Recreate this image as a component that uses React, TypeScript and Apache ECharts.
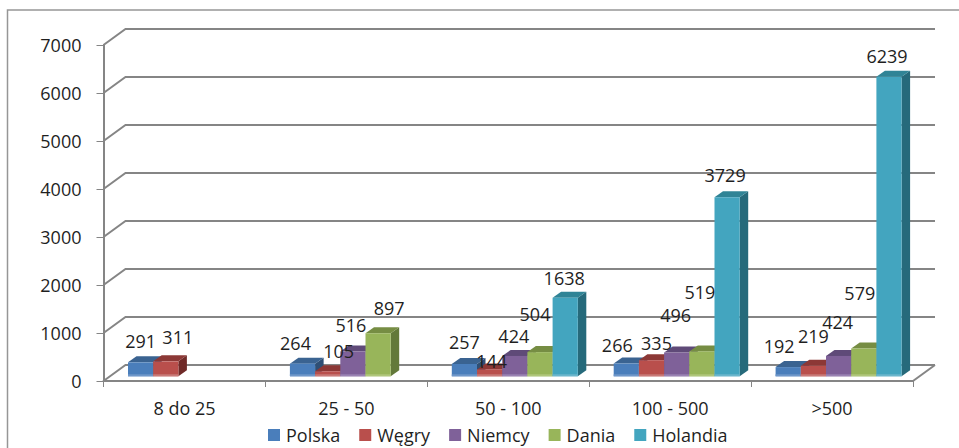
import React, { useEffect, useRef } from "react";
import * as echarts from "echarts";

const categories = ["8 do 25", "25 - 50", "50 - 100", "100 - 500", ">500"];
const yTicks = [0, 1000, 2000, 3000, 4000, 5000, 6000, 7000];
const polska = [291, 264, 257, 266, 192];
const wegry = [311, 105, 144, 335, 219];
const niemcy = [null, 516, 424, 496, 424];
const dania = [null, 897, 504, 519, 579];
const holandia = [null, null, 1638, 3729, 6239];

const seriesNames = ["Polska", "Węgry", "Niemcy", "Dania", "Holandia"];
const seriesValues = [polska, wegry, niemcy, dania, holandia];
const frontColors = ["#4a7ebb", "#b94f4c", "#7f6199", "#98b55a", "#43a5bf"];
const topColors = ["#3a6391", "#8c3836", "#5f4a78", "#768d43", "#308496"];
const sideColors = ["#2e4f75", "#6f2a28", "#4c3b60", "#63793a", "#266a7b"];
const stripColors = ["#6f97c9", "#c87a78", "#9a83b3", "#b0c67c", "#6cb6cc"];

// label nudges from the top centre of each bar: [dx, dy], by series then category
const labelNudges = [
  [[0, -21], [-7, -21], [0, -22], [-9, -19], [-9, -21]],
  [[12, -24], [11, -20], [2, -8], [5, -17], [0, -30]],
  [null, [-2, -27], [-1, -20], [-1, -37], [-1, -34]],
  [null, [11, -25], [-5, -38], [-2, -59], [-4, -56]],
  [null, null, [-1, -20], [-2, -22], [-2, -21]],
];

const FONT = "'Open Sans', sans-serif";
const TEXT = "#1f1f1f";
const LINE = "#858585";
const DEPTH_X = 22;
const DEPTH_Y = 16;
const BAR_W = 25.2;
const BAR_DX = 8.5;
const BAR_DY = 6;
const BAR_LIFT = 4.7;
const GROUP_INSET = 24.5;

export default function App() {
  const ref = useRef<HTMLDivElement>(null);
  useEffect(() => {
    document.body.style.margin = "0";
    const chart = echarts.init(ref.current!, null, { renderer: "svg" });

    const frameSeries = {
      type: "custom",
      name: "frame",
      silent: true,
      z: 1,
      data: yTicks.map((t) => [0, t]),
      renderItem: (params: any, api: any) => {
        const y = api.coord([0, api.value(1)])[1];
        const cs = params.coordSys;
        const left = cs.x;
        const right = cs.x + cs.width;
        const children: any[] = [
          {
            type: "polyline",
            shape: { points: [[left, y], [left + DEPTH_X, y - DEPTH_Y], [right + DEPTH_X, y - DEPTH_Y]] },
            style: { stroke: LINE, lineWidth: 2, fill: "none" },
          },
        ];
        if (api.value(1) === 0) {
          children.push({
            type: "line",
            shape: { x1: right, y1: y, x2: right + DEPTH_X, y2: y - DEPTH_Y },
            style: { stroke: LINE, lineWidth: 2 },
          });
        }
        return { type: "group", children };
      },
    };

    const barSeries = seriesNames.map((name, s) => ({
      type: "custom",
      name,
      z: 3,
      itemStyle: { color: frontColors[s] },
      data: categories
        .map((_, i) => [i, seriesValues[s][i]])
        .filter((d) => d[1] !== null),
      renderItem: (params: any, api: any) => {
        const cat = api.value(0);
        const val = api.value(1);
        const band = api.size([1, 0])[0];
        const [cx, y1] = api.coord([cat, val]);
        const y0 = api.coord([cat, 0])[1];
        const base = y0 - BAR_LIFT;
        const top = y1 - BAR_LIFT;
        const x = cx - band / 2 + GROUP_INSET + s * BAR_W;
        const nudge = labelNudges[s][cat] || [0, -22];
        return {
          type: "group",
          children: [
            {
              type: "polygon",
              shape: {
                points: [
                  [x + BAR_W, top],
                  [x + BAR_W + BAR_DX, top - BAR_DY],
                  [x + BAR_W + BAR_DX, base - BAR_DY],
                  [x + BAR_W, base],
                ],
              },
              style: { fill: sideColors[s] },
            },
            {
              type: "polygon",
              shape: {
                points: [
                  [x, top],
                  [x + BAR_DX, top - BAR_DY],
                  [x + BAR_W + BAR_DX, top - BAR_DY],
                  [x + BAR_W, top],
                ],
              },
              style: { fill: topColors[s] },
            },
            {
              type: "rect",
              shape: { x, y: top, width: BAR_W, height: base - top },
              style: { fill: frontColors[s] },
            },
            {
              type: "rect",
              shape: { x, y: base - 2, width: BAR_W, height: 2 },
              style: { fill: stripColors[s] },
            },
            {
              type: "text",
              z2: 100,
              style: {
                x: x + BAR_W / 2 + nudge[0],
                y: top + nudge[1],
                text: String(val),
                font: `18px ${FONT}`,
                fill: TEXT,
                align: "center",
                verticalAlign: "middle",
              },
            },
          ],
        };
      },
    }));

    chart.setOption({
      animation: false,
      backgroundColor: "#ffffff",
      tooltip: { show: false },
      grid: { left: 103.5, right: 46, top: 45, bottom: 67 },
      xAxis: {
        type: "category",
        data: categories,
        boundaryGap: true,
        axisLine: { lineStyle: { color: LINE, width: 2 } },
        axisTick: { show: true, length: 6, lineStyle: { color: LINE, width: 1 } },
        axisLabel: { color: TEXT, fontSize: 18, fontFamily: FONT, margin: 18, interval: 0 },
        splitLine: { show: false },
      },
      yAxis: {
        type: "value",
        min: 0,
        max: 7000,
        interval: 1000,
        axisLine: { show: true, lineStyle: { color: LINE, width: 2 } },
        axisTick: { show: true, length: 7, lineStyle: { color: LINE, width: 1 } },
        axisLabel: {
          color: TEXT,
          fontSize: 18,
          fontFamily: FONT,
          margin: 22,
          formatter: (v: number) => String(v),
        },
        splitLine: { show: false },
      },
      legend: {
        show: true,
        data: seriesNames,
        left: 268,
        top: 426,
        icon: "rect",
        itemWidth: 12,
        itemHeight: 12,
        itemGap: 19,
        padding: 0,
        selectedMode: false,
        textStyle: { color: TEXT, fontSize: 18, fontFamily: FONT, padding: [0, 0, 0, 1] },
      },
      graphic: [
        {
          type: "polyline",
          silent: true,
          shape: { points: [[7.5, 448], [7.5, 10], [959, 10]] },
          style: { stroke: "#969696", lineWidth: 1.5, fill: "none" },
        },
      ],
      series: [frameSeries, ...barSeries],
    });
    return () => chart.dispose();
  }, []);
  return <div ref={ref} style={{ position: "fixed", left: 0, top: 0, width: 959, height: 448 }} />;
}
